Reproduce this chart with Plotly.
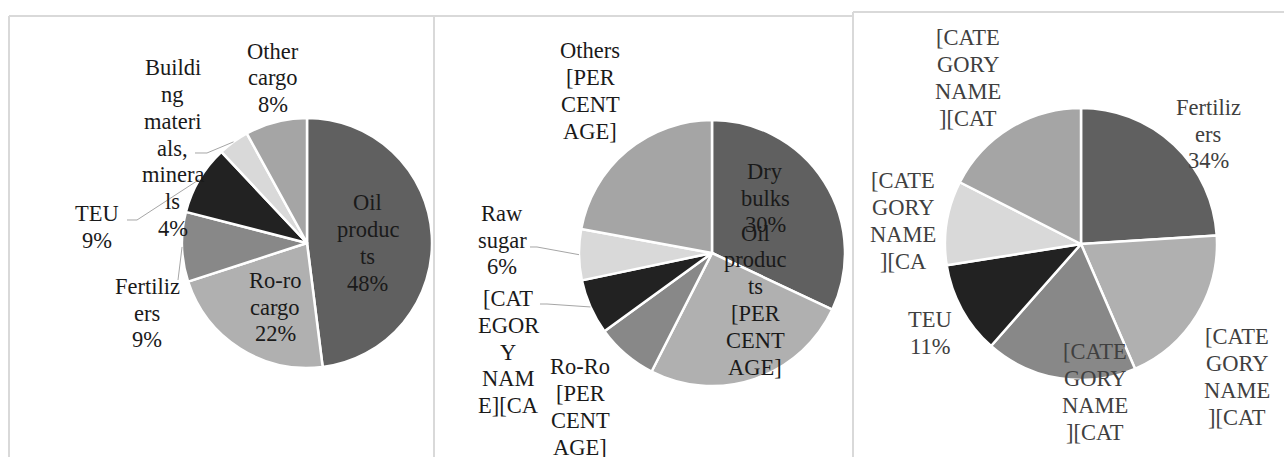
import math
import plotly.graph_objects as go

W, H = 1284, 457

# ---------------- data ----------------
p1_labels = ["Oil products", "Ro-ro cargo", "Fertilizers", "TEU", "Building materials, minerals", "Other cargo"]
p1_values = [48, 22, 9, 9, 4, 8]
p1_text = ["Oil<br>produc<br>ts<br>48%", "Ro-ro<br>cargo<br>22%", "Fertiliz<br>ers<br>9%", "TEU<br>9%",
           "Buildi<br>ng<br>materi<br>als,<br>minera<br>ls<br>4%", "Other<br>cargo<br>8%"]

p2_labels = ["Dry bulks", "Oil products", "Ro-Ro", "[CATEGORY NAME]", "Raw sugar", "Others"]
p2_values = [32, 25.5, 7.5, 6.7, 6.2, 22.1]
p2_text = ["Dry<br>bulks<br>30%", "Oil<br>produc<br>ts<br>[PER<br>CENT<br>AGE]", "Ro-Ro<br>[PER<br>CENT<br>AGE]",
           "[CAT<br>EGOR<br>Y<br>NAM<br>E][CA", "Raw<br>sugar<br>6%", "Others<br>[PER<br>CENT<br>AGE]"]

p3_labels = ["Fertilizers", "[CATEGORY NAME] 1", "[CATEGORY NAME] 2", "TEU", "[CATEGORY NAME] 3", "[CATEGORY NAME] 4"]
p3_values = [24, 19.5, 18, 11, 10, 17.5]
p3_text = ["Fertiliz<br>ers<br>34%", "[CATE<br>GORY<br>NAME<br>][CAT", "[CATE<br>GORY<br>NAME<br>][CAT",
           "TEU<br>11%", "[CATE<br>GORY<br>NAME<br>][CA", "[CATE<br>GORY<br>NAME<br>][CAT"]

colors = ["#606060", "#b0b0b0", "#888888", "#222222", "#d9d9d9", "#a5a5a5"]

FONT = "'Liberation Serif', 'Tinos', 'DejaVu Serif', 'Times New Roman', 'Noto Serif', serif"
FONT_SIZE = 22.5
LINE_GAP = 26.8  # px between lines (Excel-like tight leading)

# ---------------- layout helpers (pixel geometry) ----------------
def px(x):
    return x / W

def py(y):
    return (H - y) / H

panels = [
    dict(labels=p1_labels, values=p1_values, text=p1_text, cx=307, cy=243, r=125,
         label_pos=[(368, 243), (275, 307), (147, 313), (97, 227), (173, 148), (273, 78)],
         font_color="#1a1a1a",
         leaders={4: [(195, 153), (207, 153)], 3: [(127, 220), (137, 220)], 2: [(178, 280)]}),
    dict(labels=p2_labels, values=p2_values, text=p2_text, cx=712, cy=253, r=133,
         label_pos=[(765, 198), (755, 300), (580, 407), (508, 352), (502, 240), (590, 91)],
         font_color="#1a1a1a",
         leaders={4: [(530, 247), (537, 247)], 3: [(540, 304), (547, 304)]}),
    dict(labels=p3_labels, values=p3_values, text=p3_text, cx=1081, cy=244, r=136,
         label_pos=[(1208, 134), (1237, 377), (1095, 392), (930, 333), (903, 221), (968, 78)],
         font_color="#404040",
         leaders={}),
]

fig = go.Figure()
annotations = []
shapes = []

for p in panels:
    cx, cy, r = p["cx"], p["cy"], p["r"]
    fig.add_trace(go.Pie(
        labels=p["labels"], values=p["values"], sort=False, direction="clockwise", rotation=0,
        marker=dict(colors=colors, line=dict(color="white", width=2.5)),
        textinfo="none", hoverinfo="label+percent", showlegend=False,
        domain=dict(x=[px(cx - r), px(cx + r)], y=[py(cy + r), py(cy - r)]),
    ))
    for t, (lx, ly) in zip(p["text"], p["label_pos"]):
        lines = t.split("<br>")
        n = len(lines)
        for i, line in enumerate(lines):
            yy = ly + (i - (n - 1) / 2) * LINE_GAP
            annotations.append(dict(
                x=px(lx), y=py(yy), xref="paper", yref="paper", text=line, showarrow=False,
                xanchor="center", yanchor="middle", align="center",
                font=dict(family=FONT, size=FONT_SIZE, color=p["font_color"]),
            ))
    # leader lines: slice end point from the slice mid-angle
    total = sum(p["values"])
    cum = 0
    mids = []
    for v in p["values"]:
        mids.append((cum + v / 2) / total * 2 * math.pi)
        cum += v
    for idx, pts in p["leaders"].items():
        a = mids[idx]
        ex, ey = cx + r * math.sin(a), cy - r * math.cos(a)
        path_pts = pts + [(ex, ey)]
        d = "M " + " L ".join(f"{px(x):.5f},{py(y):.5f}" for x, y in path_pts)
        shapes.append(dict(type="path", path=d, xref="paper", yref="paper",
                           line=dict(color="#a6a6a6", width=1)))

# panel borders
border = dict(color="#d9d9d9", width=2)
shapes += [
    dict(type="line", xref="paper", yref="paper", x0=px(9), x1=px(9), y0=py(470), y1=py(16), line=border),
    dict(type="line", xref="paper", yref="paper", x0=px(9), x1=px(853), y0=py(16), y1=py(16), line=border),
    dict(type="line", xref="paper", yref="paper", x0=px(434), x1=px(434), y0=py(470), y1=py(16), line=border),
    dict(type="line", xref="paper", yref="paper", x0=px(853), x1=px(853), y0=py(470), y1=py(12), line=border),
    dict(type="line", xref="paper", yref="paper", x0=px(853), x1=px(1284), y0=py(12), y1=py(12), line=border),
]

fig.update_layout(
    width=W, height=H, margin=dict(l=0, r=0, t=0, b=0),
    paper_bgcolor="white", plot_bgcolor="white",
    font=dict(family=FONT),
    annotations=annotations, shapes=shapes,
)

fig.write_html(
    "out.html",
    config={"displayModeBar": False},
    post_script="document.body.style.margin='0';document.body.style.padding='0';document.body.style.overflow='hidden';",
)
